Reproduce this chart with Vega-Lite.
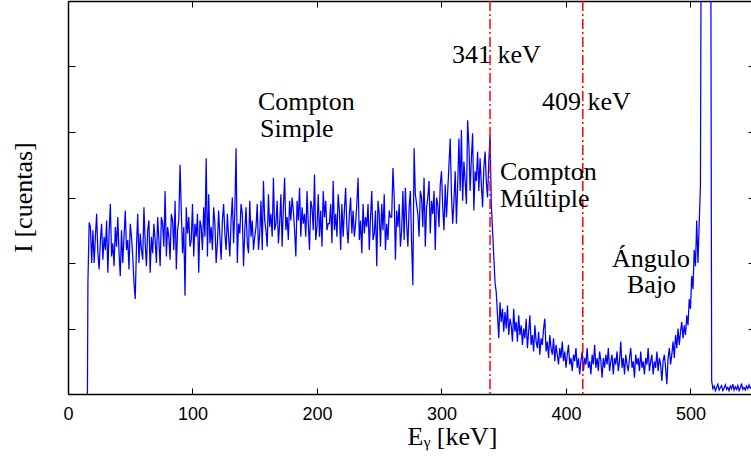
{
"$schema":"https://vega.github.io/schema/vega-lite/v6.json",
"autosize":"none",
"padding":{"left":68,"top":1,"right":0,"bottom":66},
"width":683,"height":393,
"background":"white",
"config":{"view":{"stroke":null},"axis":{"grid":false,"domainColor":"#000","domainWidth":1.5,"tickColor":"#000","tickWidth":1,"labelColor":"#000","titleColor":"#000","labelFont":"Liberation Sans","labelFontSize":17,"titleFont":"Liberation Serif","titleFontSize":26,"titleFontWeight":"normal"}},
"datasets":{
"spec":[
{"e":15.6,"c":0},{"e":16,"c":1.7},{"e":17,"c":2.62},{"e":18,"c":2.55},{"e":19,"c":2.0},
{"e":20,"c":2.5},{"e":21,"c":2.0},{"e":22,"c":2.4},{"e":23,"c":2.75},{"e":24,"c":2.15},{"e":25,"c":1.9},{"e":26,"c":2.35},{"e":27,"c":2.6},{"e":28,"c":2.05},{"e":29,"c":2.4},
{"e":30,"c":2.2},{"e":31,"c":2.65},{"e":32,"c":1.85},{"e":33,"c":2.45},{"e":34,"c":2.9},{"e":35,"c":2.1},{"e":36,"c":2.3},{"e":37,"c":1.95},{"e":38,"c":2.55},{"e":39,"c":2.25},
{"e":40,"c":2.7},{"e":41,"c":2.15},{"e":42,"c":1.8},{"e":43,"c":2.5},{"e":44,"c":2.0},{"e":45,"c":2.4},{"e":46,"c":2.8},{"e":47,"c":2.2},{"e":48,"c":2.35},{"e":49,"c":1.9},
{"e":50,"c":2.6},{"e":51,"c":2.4},{"e":52,"c":2.1},{"e":53,"c":1.7},{"e":54,"c":1.45},{"e":55,"c":2.25},{"e":56,"c":2.75},{"e":57,"c":2.0},{"e":58,"c":2.45},{"e":59,"c":2.2},
{"e":60,"c":2.05},{"e":61,"c":2.85},{"e":62,"c":2.3},{"e":63,"c":1.95},{"e":64,"c":2.5},{"e":65,"c":2.65},{"e":66,"c":1.85},{"e":67,"c":2.4},{"e":68,"c":2.15},{"e":69,"c":2.6},
{"e":70,"c":2.35},{"e":71,"c":2.0},{"e":72,"c":2.7},{"e":73,"c":2.35},{"e":74,"c":1.95},{"e":75,"c":2.7},{"e":76,"c":2.6},{"e":77,"c":2.25},{"e":78,"c":3.1},{"e":79,"c":2.1},
{"e":80,"c":2.55},{"e":81,"c":2.4},{"e":82,"c":2.05},{"e":83,"c":2.75},{"e":84,"c":2.65},{"e":85,"c":2.2},{"e":86,"c":2.95},{"e":87,"c":1.9},{"e":88,"c":2.5},{"e":89,"c":2.65},
{"e":90,"c":3.5},{"e":91,"c":2.8},{"e":92,"c":2.15},{"e":93,"c":2.55},{"e":94,"c":1.5},{"e":95,"c":2.85},{"e":96,"c":2.45},{"e":97,"c":2.7},{"e":98,"c":2.25},{"e":99,"c":2.35},
{"e":100,"c":2.9},{"e":101,"c":2.1},{"e":102,"c":2.6},{"e":103,"c":2.4},{"e":104,"c":2.75},{"e":105,"c":1.85},{"e":106,"c":2.65},{"e":107,"c":2.55},{"e":108,"c":2.2},{"e":109,"c":2.85},
{"e":110,"c":2.4},{"e":111,"c":3.6},{"e":112,"c":2.1},{"e":113,"c":3.05},{"e":114,"c":2.3},{"e":115,"c":2.55},{"e":116,"c":2.2},{"e":117,"c":2.85},{"e":118,"c":2.6},{"e":119,"c":2.0},
{"e":120,"c":2.3},{"e":121,"c":2.8},{"e":122,"c":2.4},{"e":123,"c":2.05},{"e":124,"c":2.65},{"e":125,"c":2.9},{"e":126,"c":2.45},{"e":127,"c":2.2},{"e":128,"c":2.75},{"e":129,"c":2.4},
{"e":130,"c":2.1},{"e":131,"c":2.65},{"e":132,"c":3.0},{"e":133,"c":2.3},{"e":134,"c":2.8},{"e":135,"c":3.75},{"e":136,"c":2.0},{"e":137,"c":2.6},{"e":138,"c":2.45},{"e":139,"c":2.9},
{"e":140,"c":2.75},{"e":141,"c":1.95},{"e":142,"c":2.5},{"e":143,"c":2.85},{"e":144,"c":2.3},{"e":145,"c":2.15},{"e":146,"c":2.95},{"e":147,"c":2.4},{"e":148,"c":2.65},{"e":149,"c":2.2},
{"e":150,"c":2.4},{"e":151,"c":2.55},{"e":152,"c":2.9},{"e":153,"c":2.2},{"e":154,"c":2.45},{"e":155,"c":2.95},{"e":156,"c":2.2},{"e":157,"c":3.25},{"e":158,"c":2.65},{"e":159,"c":2.5},
{"e":160,"c":2.25},{"e":161,"c":3.05},{"e":162,"c":2.55},{"e":163,"c":2.75},{"e":164,"c":2.4},{"e":165,"c":3.3},{"e":166,"c":2.5},{"e":167,"c":2.6},{"e":168,"c":2.95},{"e":169,"c":2.3},
{"e":170,"c":2.6},{"e":171,"c":3.05},{"e":172,"c":2.25},{"e":173,"c":2.85},{"e":174,"c":3.3},{"e":175,"c":2.5},{"e":176,"c":2.7},{"e":177,"c":2.35},{"e":178,"c":2.95},{"e":179,"c":2.65},
{"e":180,"c":3.0},{"e":181,"c":2.8},{"e":182,"c":2.5},{"e":183,"c":2.1},{"e":184,"c":2.95},{"e":185,"c":2.65},{"e":186,"c":3.15},{"e":187,"c":2.4},{"e":188,"c":2.85},{"e":189,"c":2.6},
{"e":190,"c":2.75},{"e":191,"c":2.4},{"e":192,"c":3.1},{"e":193,"c":2.6},{"e":194,"c":2.2},{"e":195,"c":2.95},{"e":196,"c":2.85},{"e":197,"c":2.5},{"e":198,"c":3.35},{"e":199,"c":2.35},
{"e":200,"c":2.55},{"e":201,"c":3.05},{"e":202,"c":2.4},{"e":203,"c":2.8},{"e":204,"c":2.25},{"e":205,"c":3.1},{"e":206,"c":2.7},{"e":207,"c":2.95},{"e":208,"c":2.5},{"e":209,"c":2.6},
{"e":210,"c":2.6},{"e":211,"c":2.9},{"e":212,"c":2.3},{"e":213,"c":3.25},{"e":214,"c":2.5},{"e":215,"c":2.75},{"e":216,"c":2.4},{"e":217,"c":3.05},{"e":218,"c":2.8},{"e":219,"c":2.2},
{"e":220,"c":2.9},{"e":221,"c":2.4},{"e":222,"c":2.8},{"e":223,"c":3.15},{"e":224,"c":2.55},{"e":225,"c":2.3},{"e":226,"c":2.75},{"e":227,"c":3.0},{"e":228,"c":2.45},{"e":229,"c":2.8},
{"e":230,"c":2.4},{"e":231,"c":2.6},{"e":232,"c":2.9},{"e":233,"c":3.3},{"e":234,"c":2.35},{"e":235,"c":2.65},{"e":236,"c":2.15},{"e":237,"c":2.9},{"e":238,"c":2.45},{"e":239,"c":2.7},
{"e":240,"c":2.55},{"e":241,"c":2.9},{"e":242,"c":2.2},{"e":243,"c":2.7},{"e":244,"c":3.1},{"e":245,"c":2.35},{"e":246,"c":2.45},{"e":247,"c":2.8},{"e":248,"c":1.95},{"e":249,"c":2.95},
{"e":250,"c":2.75},{"e":251,"c":2.25},{"e":252,"c":2.9},{"e":253,"c":2.5},{"e":254,"c":3.05},{"e":255,"c":2.2},{"e":256,"c":2.6},{"e":257,"c":2.35},{"e":258,"c":2.8},{"e":259,"c":2.7},
{"e":260,"c":2.7},{"e":261,"c":3.45},{"e":262,"c":3.0},{"e":263,"c":2.05},{"e":264,"c":2.8},{"e":265,"c":2.55},{"e":266,"c":2.9},{"e":267,"c":2.25},{"e":268,"c":2.5},{"e":269,"c":3.1},
{"e":270,"c":2.35},{"e":271,"c":3.15},{"e":272,"c":2.6},{"e":273,"c":2.25},{"e":274,"c":2.85},{"e":275,"c":3.1},{"e":276,"c":2.3},{"e":277,"c":1.66},{"e":278,"c":3.75},{"e":279,"c":3.05},
{"e":280,"c":2.9},{"e":281,"c":2.75},{"e":282,"c":2.4},{"e":283,"c":3.1},{"e":284,"c":3.0},{"e":285,"c":2.55},{"e":286,"c":3.3},{"e":287,"c":2.25},{"e":288,"c":2.85},{"e":289,"c":3.0},
{"e":290,"c":3.25},{"e":291,"c":2.45},{"e":292,"c":2.95},{"e":293,"c":2.75},{"e":294,"c":3.1},{"e":295,"c":2.2},{"e":296,"c":3.0},{"e":297,"c":2.9},{"e":298,"c":2.55},{"e":299,"c":3.2},
{"e":300,"c":3.4},{"e":301,"c":2.85},{"e":302,"c":2.5},{"e":303,"c":3.2},{"e":304,"c":2.7},{"e":305,"c":3.1},{"e":306,"c":3.5},{"e":307,"c":3.9},{"e":308,"c":3.05},{"e":309,"c":2.6},
{"e":310,"c":2.95},{"e":311,"c":3.4},{"e":312,"c":2.6},{"e":313,"c":3.2},{"e":314,"c":3.9},{"e":315,"c":3.1},{"e":316,"c":4.03},{"e":317,"c":2.95},{"e":318,"c":3.55},{"e":319,"c":3.25},
{"e":320,"c":2.9},{"e":321,"c":4.18},{"e":322,"c":3.8},{"e":323,"c":3.1},{"e":324,"c":3.6},{"e":325,"c":3.98},{"e":326,"c":2.8},{"e":327,"c":3.4},{"e":328,"c":3.25},{"e":329,"c":3.7},
{"e":330,"c":3.1},{"e":331,"c":3.6},{"e":332,"c":3.2},{"e":333,"c":2.85},{"e":334,"c":3.45},{"e":335,"c":3.7},{"e":336,"c":3.25},{"e":337,"c":3.0},{"e":338,"c":3.55},{"e":339,"c":3.95},
{"e":340,"c":2.9},{"e":341,"c":2.5},{"e":342,"c":2.1},{"e":343,"c":1.7},{"e":344,"c":1.55},{"e":345,"c":1.2},{"e":346,"c":0.85},{"e":347,"c":1.4},{"e":348,"c":1.1},{"e":349,"c":1.3},
{"e":350,"c":0.95},{"e":351,"c":1.25},{"e":352,"c":1.0},{"e":353,"c":1.35},{"e":354,"c":0.9},{"e":355,"c":1.15},{"e":356,"c":1.05},{"e":357,"c":0.8},{"e":358,"c":1.3},{"e":359,"c":0.95},
{"e":360,"c":1.1},{"e":361,"c":0.8},{"e":362,"c":1.2},{"e":363,"c":0.9},{"e":364,"c":1.05},{"e":365,"c":0.75},{"e":366,"c":1.0},{"e":367,"c":0.85},{"e":368,"c":1.15},{"e":369,"c":0.7},
{"e":370,"c":0.95},{"e":371,"c":1.2},{"e":372,"c":0.75},{"e":373,"c":0.9},{"e":374,"c":0.65},{"e":375,"c":1.05},{"e":376,"c":0.8},{"e":377,"c":0.7},{"e":378,"c":0.95},{"e":379,"c":0.6},
{"e":380,"c":0.85},{"e":381,"c":0.75},{"e":382,"c":1.0},{"e":383,"c":1.15},{"e":384,"c":0.65},{"e":385,"c":0.8},{"e":386,"c":0.55},{"e":387,"c":0.9},{"e":388,"c":0.7},{"e":389,"c":0.6},
{"e":390,"c":0.85},{"e":391,"c":0.5},{"e":392,"c":0.75},{"e":393,"c":0.6},{"e":394,"c":0.45},{"e":395,"c":0.7},{"e":396,"c":0.55},{"e":397,"c":0.8},{"e":398,"c":0.5},{"e":399,"c":0.65},
{"e":400,"c":0.4},{"e":401,"c":0.6},{"e":402,"c":0.75},{"e":403,"c":0.45},{"e":404,"c":0.55},{"e":405,"c":0.35},{"e":406,"c":0.6},{"e":407,"c":0.5},{"e":408,"c":0.7},{"e":409,"c":0.4},
{"e":410,"c":0.55},{"e":411,"c":0.3},{"e":412,"c":0.5},{"e":413,"c":0.65},{"e":414,"c":0.35},{"e":415,"c":0.55},{"e":416,"c":0.45},{"e":417,"c":0.7},{"e":418,"c":0.4},{"e":419,"c":0.5},
{"e":420,"c":0.3},{"e":421,"c":0.6},{"e":422,"c":0.45},{"e":423,"c":0.75},{"e":424,"c":0.4},{"e":425,"c":0.55},{"e":426,"c":0.35},{"e":427,"c":0.65},{"e":428,"c":0.5},{"e":429,"c":0.25},
{"e":430,"c":0.55},{"e":431,"c":0.4},{"e":432,"c":0.6},{"e":433,"c":0.45},{"e":434,"c":0.7},{"e":435,"c":0.35},{"e":436,"c":0.5},{"e":437,"c":0.6},{"e":438,"c":0.3},{"e":439,"c":0.55},
{"e":440,"c":0.45},{"e":441,"c":0.65},{"e":442,"c":0.35},{"e":443,"c":0.5},{"e":444,"c":0.8},{"e":445,"c":0.4},{"e":446,"c":0.55},{"e":447,"c":0.3},{"e":448,"c":0.6},{"e":449,"c":0.45},
{"e":450,"c":0.35},{"e":451,"c":0.55},{"e":452,"c":0.7},{"e":453,"c":0.4},{"e":454,"c":0.5},{"e":455,"c":0.25},{"e":456,"c":0.6},{"e":457,"c":0.45},{"e":458,"c":0.55},{"e":459,"c":0.35},
{"e":460,"c":0.65},{"e":461,"c":0.4},{"e":462,"c":0.5},{"e":463,"c":0.3},{"e":464,"c":0.55},{"e":465,"c":0.45},{"e":466,"c":0.7},{"e":467,"c":0.35},{"e":468,"c":0.5},{"e":469,"c":0.6},
{"e":470,"c":0.3},{"e":471,"c":0.5},{"e":472,"c":0.4},{"e":473,"c":0.65},{"e":474,"c":0.35},{"e":475,"c":0.55},{"e":476,"c":0.45},{"e":477,"c":0.2},{"e":478,"c":0.5},{"e":479,"c":0.6},
{"e":480,"c":0.4},{"e":481,"c":0.15},{"e":482,"c":0.55},{"e":483,"c":0.7},{"e":484,"c":0.45},{"e":485,"c":0.6},{"e":486,"c":0.8},{"e":487,"c":0.55},{"e":488,"c":0.9},{"e":489,"c":0.7},
{"e":490,"c":1.0},{"e":491,"c":0.75},{"e":492,"c":0.95},{"e":493,"c":1.1},{"e":494,"c":0.85},{"e":495,"c":1.05},{"e":496,"c":0.9},{"e":497,"c":1.2},{"e":498,"c":1.05},{"e":499,"c":1.45},
{"e":500,"c":1.3},{"e":501,"c":1.8},{"e":502,"c":1.6},{"e":503,"c":2.2},{"e":504,"c":1.95},{"e":505,"c":2.65},{"e":506,"c":2.0},{"e":507,"c":2.6},{"e":508,"c":3.2},{"e":509,"c":10},
{"e":510,"c":10},{"e":511,"c":10},{"e":512,"c":10},{"e":513,"c":10},{"e":514,"c":10},{"e":515,"c":10},{"e":516,"c":10},{"e":517,"c":0.2},{"e":518,"c":0.08},{"e":519,"c":0.12},
{"e":520,"c":0.05},{"e":521,"c":0.1},{"e":522,"c":0.15},{"e":523,"c":0.06},{"e":524,"c":0.1},{"e":525,"c":0.13},{"e":526,"c":0.05},{"e":527,"c":0.09},{"e":528,"c":0.14},{"e":529,"c":0.07},
{"e":530,"c":0.1},{"e":531,"c":0.05},{"e":532,"c":0.12},{"e":533,"c":0.08},{"e":534,"c":0.15},{"e":535,"c":0.06},{"e":536,"c":0.11},{"e":537,"c":0.07},{"e":538,"c":0.13},{"e":539,"c":0.05},
{"e":540,"c":0.09},{"e":541,"c":0.16},{"e":542,"c":0.07},{"e":543,"c":0.1},{"e":544,"c":0.06},{"e":545,"c":0.12},{"e":546,"c":0.08},{"e":547,"c":0.14},{"e":548,"c":0.09},{"e":549,"c":0.11}
],
"marks":[{"e":339},{"e":413.5}],
"labels":[
{"e":152.6,"c":4.34,"t":"Compton"},{"e":154.2,"c":3.92,"t":"Simple"},
{"e":308.4,"c":5.05,"t":"341 keV"},{"e":380.7,"c":4.34,"t":"409 keV"},
{"e":347,"c":3.27,"t":"Compton"},{"e":347,"c":2.85,"t":"Múltiple"},
{"e":436.9,"c":1.94,"t":"Ángulo"},{"e":449,"c":1.54,"t":"Bajo"}
]
},
"resolve":{"axis":{"x":"independent","y":"independent"}},
"layer":[
{"data":{"name":"spec"},
"mark":{"type":"line","color":"#0000ff","strokeWidth":1.25,"clip":true},
"encoding":{
"x":{"field":"e","type":"quantitative","scale":{"domain":[0,548.6],"nice":false,"zero":false},
"axis":{"orient":"bottom","values":[0,100,200,300,400,500],"tickSize":-6,"labelPadding":17,"labelFontSize":18,"title":"Eᵧ [keV]","titleX":384,"titleY":50,"titleBaseline":"alphabetic","titleAlign":"center","labelFlush":false}},
"y":{"field":"c","type":"quantitative","scale":{"domain":[0,6],"nice":false},
"axis":{"orient":"left","values":[1,2,3,4,5],"tickSize":-7,"labels":false,"title":"I [cuentas]","titleX":-45,"titleY":196,"titleAngle":-90,"titleBaseline":"middle","titleAlign":"center"}}
}},
{"data":{"name":"marks"},
"mark":{"type":"rule","color":"#ff0000","strokeWidth":1.5,"strokeDash":[10,3,2,3]},
"encoding":{
"x":{"field":"e","type":"quantitative","scale":{"domain":[0,548.6],"nice":false,"zero":false},
"axis":{"orient":"top","values":[0,100,200,300,400,500],"tickSize":-6,"labels":false,"title":null}}
}},
{"data":{"name":"labels"},
"mark":{"type":"text","align":"left","baseline":"alphabetic","font":"Liberation Serif","fontSize":26,"color":"#000"},
"encoding":{
"x":{"field":"e","type":"quantitative","scale":{"domain":[0,548.6],"nice":false,"zero":false},"axis":null},
"y":{"field":"c","type":"quantitative","scale":{"domain":[0,6],"nice":false},
"axis":{"orient":"right","values":[1,2,3,4,5],"tickSize":-7,"labels":false,"domain":false,"offset":4,"title":null}},
"text":{"field":"t"}
}}
]
}
